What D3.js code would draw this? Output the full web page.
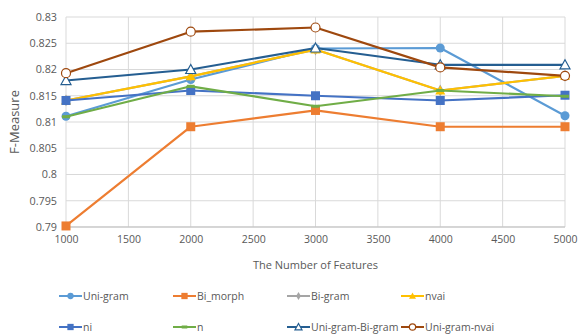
<!DOCTYPE html>
<html><head><meta charset="utf-8">
<script src="https://cdn.jsdelivr.net/npm/d3@7/dist/d3.min.js"></script>
<style>body{margin:0;background:#fff;}svg{display:block;font-family:"Open Sans","Liberation Sans",sans-serif;}</style>
</head><body><svg id="c" width="578" height="334"></svg>
<script>
const features = [1000, 2000, 3000, 4000, 5000];
const xTicks = [1000, 1500, 2000, 2500, 3000, 3500, 4000, 4500, 5000];
const yTicks = [0.79, 0.795, 0.8, 0.805, 0.81, 0.815, 0.82, 0.825, 0.83];
const seriesNames = ["Uni-gram", "Bi_morph", "Bi-gram", "nvai", "ni", "n", "Uni-gram-Bi-gram", "Uni-gram-nvai"];
const uniGram = [0.8111, 0.8181, 0.8240, 0.8241, 0.8112];
const biMorph = [0.7902, 0.8091, 0.8122, 0.8091, 0.8091];
const biGram = [0.8141, 0.8187, 0.8238, 0.8160, 0.8188];
const nvai = [0.8141, 0.8187, 0.8238, 0.8160, 0.8188];
const ni = [0.8141, 0.8160, 0.8150, 0.8141, 0.8151];
const nSeries = [0.8110, 0.8168, 0.8130, 0.8160, 0.8149];
const uniBi = [0.8179, 0.8200, 0.8241, 0.8209, 0.8209];
const uniNvai = [0.8193, 0.8272, 0.8280, 0.8204, 0.8188];

const values = [uniGram, biMorph, biGram, nvai, ni, nSeries, uniBi, uniNvai];
const colors = ["#5B9BD5", "#ED7D31", "#A5A5A5", "#FFC000", "#4472C4", "#70AD47", "#255E91", "#9E480E"];
const markers = ["circle", "square", "diamond", "triangle", "square", "dash", "triangleOpen", "circleOpen"];

const svg = d3.select("#c");
const L = 66, R = 565, T = 17, B = 227;
const x = d3.scaleLinear().domain([1000, 5000]).range([L, R]);
const y = d3.scaleLinear().domain([0.79, 0.83]).range([B, T]);
const txt = "#595959";

svg.append("g").selectAll("line").data(yTicks).join("line")
  .attr("x1", L).attr("x2", R).attr("y1", d => y(d)).attr("y2", d => y(d))
  .attr("stroke", "#d9d9d9").attr("stroke-width", 1);
svg.append("g").selectAll("line").data(xTicks).join("line")
  .attr("x1", d => x(d)).attr("x2", d => x(d)).attr("y1", T).attr("y2", B)
  .attr("stroke", "#d9d9d9").attr("stroke-width", 1);
svg.append("line").attr("x1", L).attr("x2", R).attr("y1", B).attr("y2", B).attr("stroke", "#bfbfbf");

const yAxis = svg.append("g").attr("transform", `translate(${L},0)`)
  .call(d3.axisLeft(y).tickValues(yTicks).tickSize(0).tickPadding(9).tickFormat(d => String(+d.toFixed(3))));
yAxis.select(".domain").remove();
yAxis.selectAll("text").attr("fill", txt).attr("font-size", 10.8).attr("font-family", "Open Sans, sans-serif");
const xAxis = svg.append("g").attr("transform", `translate(0,${B})`)
  .call(d3.axisBottom(x).tickValues(xTicks).tickSize(0).tickPadding(9).tickFormat(d3.format("d")));
xAxis.select(".domain").remove();
xAxis.selectAll("text").attr("fill", txt).attr("font-size", 10.5).attr("font-family", "Open Sans, sans-serif");

svg.append("text").attr("x", (L + R) / 2).attr("y", 269).attr("text-anchor", "middle")
  .attr("fill", txt).attr("font-size", 11).text("The Number of Features");
svg.append("text").attr("transform", `translate(19,${(T + B) / 2}) rotate(-90)`).attr("text-anchor", "middle")
  .attr("fill", txt).attr("font-size", 13).text("F-Measure");

function drawMarker(g, type, cx, cy, color, s) {
  s = s || 1;
  if (type === "circle") g.append("circle").attr("cx", cx).attr("cy", cy).attr("r", 4.5 * s).attr("fill", color);
  else if (type === "circleOpen") g.append("circle").attr("cx", cx).attr("cy", cy).attr("r", 4.5 * s).attr("fill", "#fff").attr("stroke", color).attr("stroke-width", 1.2);
  else if (type === "square") g.append("rect").attr("x", cx - 4.5 * s).attr("y", cy - 4.5 * s).attr("width", 9 * s).attr("height", 9 * s).attr("fill", color);
  else if (type === "diamond") g.append("path").attr("d", d3.symbol(d3.symbolDiamond, 40 * s * s)()).attr("transform", `translate(${cx},${cy})`).attr("fill", color);
  else if (type === "triangle") g.append("path").attr("d", `M${cx},${cy - 5 * s}L${cx + 5 * s},${cy + 4 * s}L${cx - 5 * s},${cy + 4 * s}Z`).attr("fill", color);
  else if (type === "triangleOpen") g.append("path").attr("d", `M${cx},${cy - 5 * s}L${cx + 5 * s},${cy + 4 * s}L${cx - 5 * s},${cy + 4 * s}Z`).attr("fill", "#fff").attr("stroke", color).attr("stroke-width", 1.2);
  else if (type === "dash") g.append("rect").attr("x", cx - 4 * s).attr("y", cy - 1.5).attr("width", 8 * s).attr("height", 3).attr("fill", color);
}

const line = d3.line().x((d, i) => x(features[i])).y(d => y(d));
values.forEach((vals, k) => {
  const g = svg.append("g");
  g.append("path").datum(vals).attr("d", line).attr("fill", "none")
    .attr("stroke", colors[k]).attr("stroke-width", 2.2).attr("stroke-linejoin", "round");
  vals.forEach((v, i) => drawMarker(g, markers[k], x(features[i]), y(v), colors[k]));
});

const legX = [59, 173, 287, 401], legY = [296, 327];
seriesNames.forEach((name, k) => {
  const lx = legX[k % 4], ly = legY[Math.floor(k / 4)];
  const g = svg.append("g");
  g.append("line").attr("x1", lx).attr("x2", lx + 23).attr("y1", ly).attr("y2", ly)
    .attr("stroke", colors[k]).attr("stroke-width", 2);
  drawMarker(g, markers[k], lx + 11.5, ly, colors[k], 0.7);
  g.append("text").attr("x", lx + 24).attr("y", ly + 4).attr("fill", txt).attr("font-size", 10.5).text(name);
});
</script></body></html>
